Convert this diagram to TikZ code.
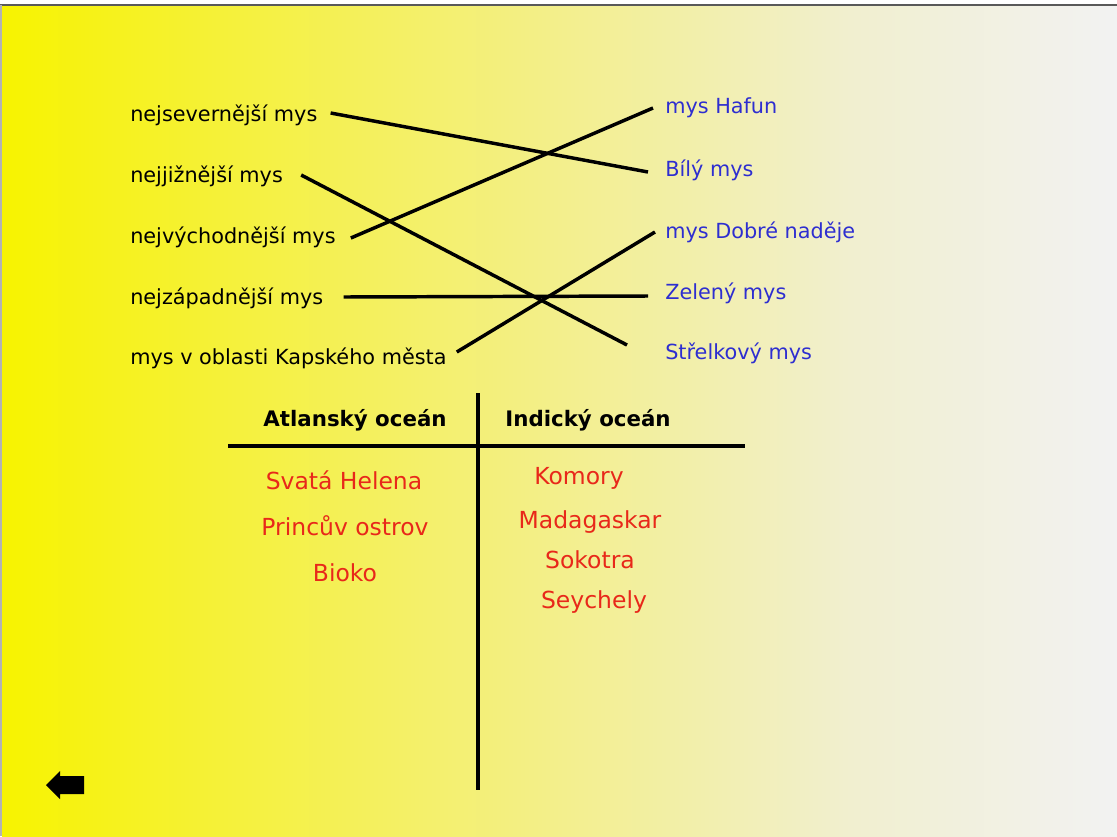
\documentclass[tikz,border=0pt]{standalone}
\usepackage{fontspec}
\setmainfont{DejaVu Sans}
\usetikzlibrary{positioning}

\definecolor{zl1}{HTML}{F7F300}
\definecolor{zl2}{HTML}{F5F13A}
\definecolor{zl3}{HTML}{F3EF8C}
\definecolor{zl4}{HTML}{F1EFCF}
\definecolor{zl5}{HTML}{F2F2F2}
\definecolor{modra}{HTML}{2E2ED0}
\definecolor{cervena}{HTML}{E8281A}
\pgfdeclarehorizontalshading{pozadi}{100bp}{color(0bp)=(zl1); color(25bp)=(zl1); color(35bp)=(zl2); color(50bp)=(zl3); color(63bp)=(zl4); color(75bp)=(zl5); color(100bp)=(zl5)}

\begin{document}
\begin{tikzpicture}[x=0.75pt,y=-0.75pt,
    levy/.style={anchor=west,inner sep=0pt,font=\fontsize{15.6}{17}\selectfont},
    pravy/.style={levy,text=modra},
    hlava/.style={inner sep=0pt,font=\fontsize{16}{18}\selectfont\bfseries},
    ostrov/.style={inner sep=0pt,text=cervena,font=\fontsize{17.6}{19}\selectfont},
    spoj/.style={line width=2.6pt}]
    \useasboundingbox (0,0) rectangle (1117,836);
    \shade[shading=pozadi] (2,6) rectangle (1117,836);
    \draw[gray!70!black,line width=1pt] (0,5) -- (1117,5);
    \draw[gray!60,line width=1.5pt] (1,5) -- (1,836);
    % mysy
    \node[levy] (sev) at (130,115) {nejsevernější mys};
    \node[levy] (juz) at (130,176) {nejjižnější mys};
    \node[levy] (vych) at (130,237) {nejvýchodnější mys};
    \node[levy] (zap) at (130,298) {nejzápadnější mys};
    \node[levy] (kap) at (130,358) {mys v oblasti Kapského města};
    \node[pravy] (hafun) at (665,108) {mys Hafun};
    \node[pravy] (bily) at (665,170) {Bílý mys};
    \node[pravy] (dobre) at (665,232) {mys Dobré naděje};
    \node[pravy] (zeleny) at (665,293) {Zelený mys};
    \node[pravy] (strel) at (665,353) {Střelkový mys};
    \draw[spoj] ([shift={(13,-2)}]sev.east) -- ([shift={(-17,2)}]bily.west);
    \draw[spoj] ([shift={(18,-1)}]juz.east) -- ([shift={(-38,-8)}]strel.west);
    \draw[spoj] ([shift={(15,1)}]vych.east) -- ([shift={(-12,0)}]hafun.west);
    \draw[spoj] ([shift={(20,-1)}]zap.east) -- ([shift={(-17,3)}]zeleny.west);
    \draw[spoj] ([shift={(10,-6)}]kap.east) -- ([shift={(-10,0)}]dobre.west);
    % tabulka
    \draw[spoj] (478,393) -- (478,790);
    \draw[spoj] (228,446) -- (745,446);
    \node[hlava] (atl) at (355,420) {Atlanský oceán};
    \node[hlava] (ind) at (588,420) {Indický oceán};
    \node[ostrov] (helena) at (344,480) {Svatá Helena};
    \node[ostrov] (princ) at (345,526) {Princův ostrov};
    \node[ostrov] (bioko) at (345,573) {Bioko};
    \node[ostrov] (komory) at (579,478) {Komory};
    \node[ostrov] (madag) at (590,522) {Madagaskar};
    \node[ostrov] (sokotra) at (590,560) {Sokotra};
    \node[ostrov] (seych) at (594,602) {Seychely};
    % sipka zpet
    \fill (46,785) -- (60,771) -- (60,776) -- (84,776) -- (84,794) -- (60,794) -- (60,799) -- cycle;
\end{tikzpicture}
\end{document}
